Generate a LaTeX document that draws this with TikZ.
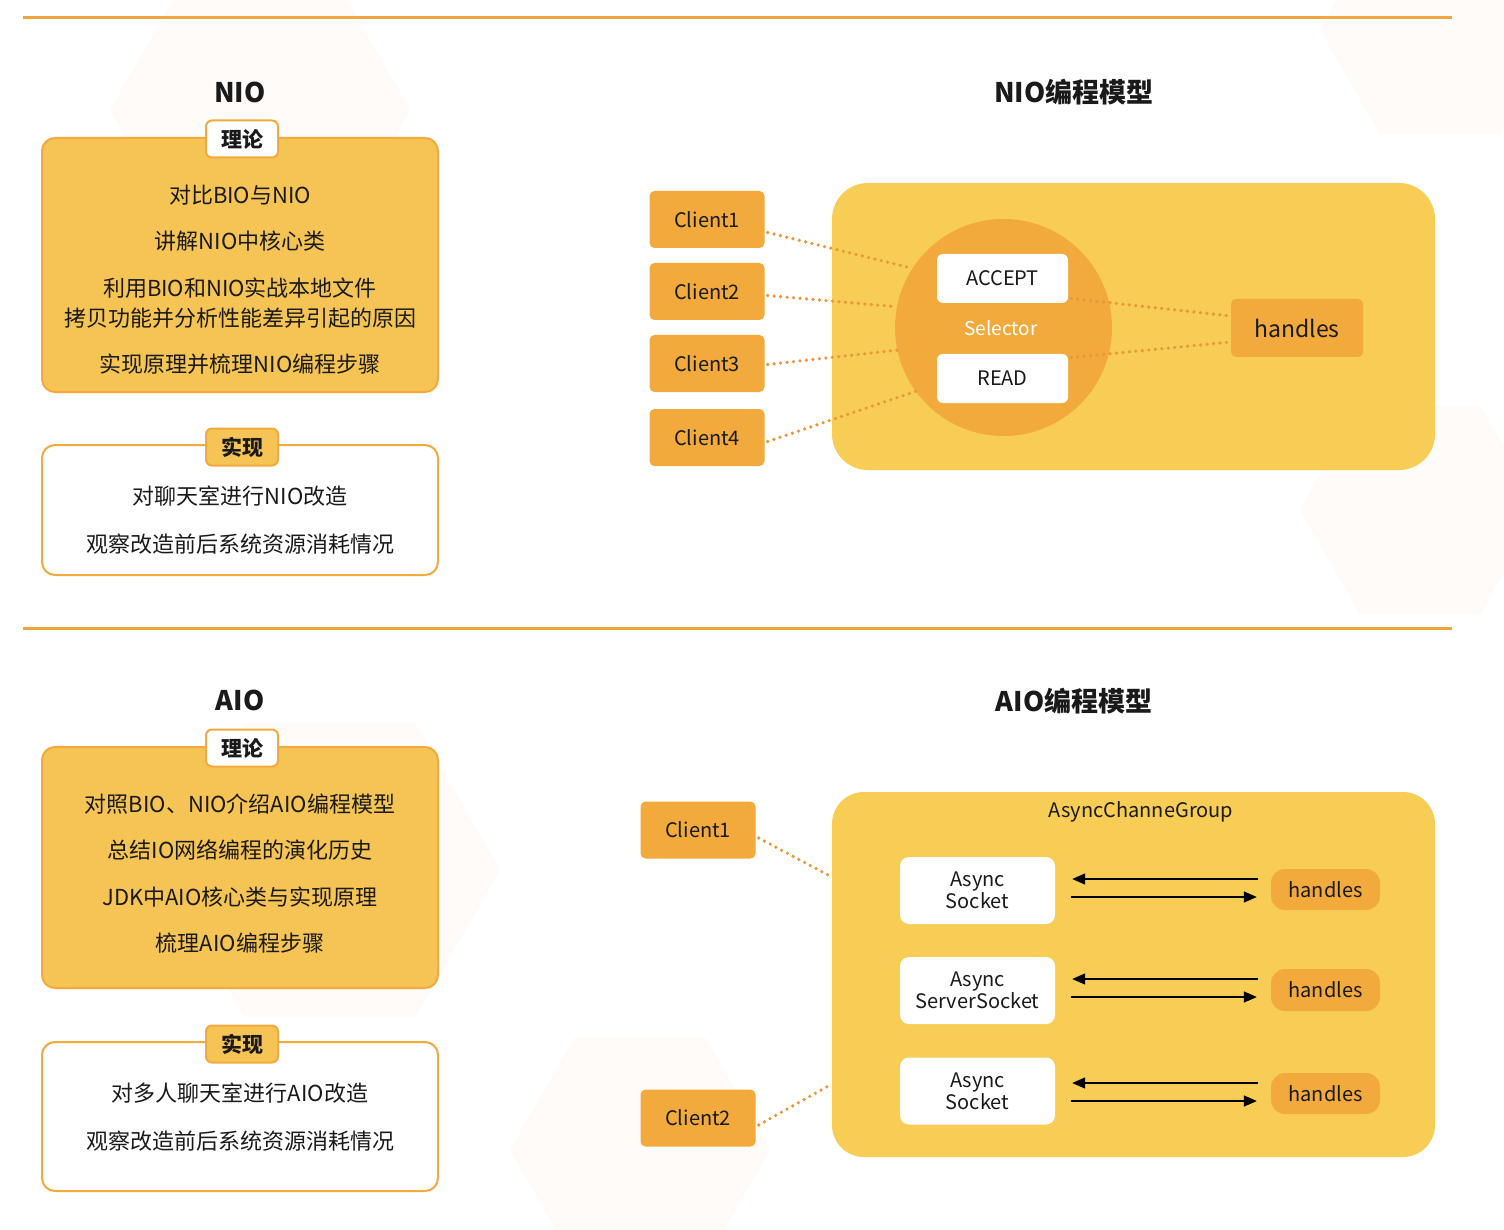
\documentclass[tikz,border=0pt]{standalone}
\usepackage{fontspec}
\setmainfont{Noto Sans CJK SC}
\usetikzlibrary{arrows.meta,calc,shapes.geometric}
\definecolor{yel}{HTML}{F7CD55}
\definecolor{thf}{HTML}{F6C454}
\definecolor{orn}{HTML}{F2AA3D}
\definecolor{rule}{HTML}{F0A53E}
\definecolor{dotc}{HTML}{E9963C}
\definecolor{ink}{HTML}{1A1A1A}
\definecolor{hexc}{HTML}{FEFBF8}
\tikzset{
  ttl/.style={font=\bfseries\fontsize{27}{32}\selectfont, text=ink},
  body/.style={font=\fontsize{22}{30}\selectfont, text=ink, align=center},
  tag/.style={draw=orn, line width=2pt, rounded corners=6pt, minimum width=72pt, minimum height=37pt, inner sep=0pt, font=\bfseries\fontsize{21}{26}\selectfont, text=ink},
  panel/.style={draw=orn, line width=2pt, rounded corners=13pt, inner sep=0pt},
  client/.style={fill=orn, rounded corners=5pt, minimum width=115pt, minimum height=57pt, inner sep=0pt, font=\fontsize{20}{24}\selectfont, text=ink},
  wbox/.style={fill=white, rounded corners=9pt, inner sep=0pt, font=\fontsize{20}{22}\selectfont, text=ink, align=center},
  hbox/.style={fill=orn, inner sep=0pt, font=\fontsize{20}{24}\selectfont, text=ink},
  dots/.style={draw=dotc, line width=3.6pt, dash pattern=on 0pt off 6.5pt, line cap=round},
  arr/.style={draw=black, line width=1.4pt, -{Triangle[length=13pt,width=11pt]}},
  hex/.style={regular polygon, regular polygon sides=6, fill=hexc, draw=none, inner sep=0pt}
}
\begin{document}
\begin{tikzpicture}[x=1pt,y=-1pt]
\useasboundingbox (0,0) rectangle (1504,1230);
\fill[white] (0,0) rectangle (1504,1230);
% faint background hexagons
\node[hex, minimum size=300pt] (hx1) at (260,110) {};
\node[hex, minimum size=240pt] (hx2) at (1420,510) {};
\node[hex, minimum size=340pt] (hx3) at (330,870) {};
\node[hex, minimum size=260pt] (hx4) at (640,1150) {};
\node[hex, minimum size=240pt] (hx5) at (1440,30) {};
% rules
\draw[rule, line width=3pt] (23,18) -- (1452,18);
\draw[rule, line width=3pt] (23,628) -- (1452,628);

% ===== NIO left =====
\node[ttl] (tnio) at (240,92) {NIO};
\node[panel, fill=thf, minimum width=396pt, minimum height=254pt] (pnt) at (240,265) {};
\node[tag, fill=white] (lnt) at (242,139) {理论};
\node[body] (n1) at (240,195) {对比BIO与NIO};
\node[body] (n2) at (240,241) {讲解NIO中核心类};
\node[body] (n3) at (240,303) {利用BIO和NIO实战本地文件\\拷贝功能并分析性能差异引起的原因};
\node[body] (n4) at (240,364) {实现原理并梳理NIO编程步骤};
\node[panel, fill=white, minimum width=396pt, minimum height=130pt] (pns) at (240,510) {};
\node[tag, fill=thf] (lns) at (242,447) {实现};
\node[body] (n5) at (240,496) {对聊天室进行NIO改造};
\node[body] (n6) at (240,544) {观察改造前后系统资源消耗情况};

% ===== NIO model =====
\node[ttl] (tnm) at (1074,92) {NIO编程模型};
\node[fill=yel, rounded corners=36pt, minimum width=603pt, minimum height=287pt, inner sep=0pt] (cn) at (1133.5,326.5) {};
\node[client] (c1) at (707,219.5) {Client1};
\node[client] (c2) at (707,291.5) {Client2};
\node[client] (c3) at (707,363.5) {Client3};
\node[client] (c4) at (707,437.5) {Client4};
\node[circle, fill=orn, minimum size=217pt, inner sep=0pt] (sel) at (1003.5,327.5) {};
\node[font=\fontsize{19}{22}\selectfont, text=white] (selt) at (1001,328) {Selector};
\node[wbox, minimum width=131pt, minimum height=49pt, rounded corners=6pt] (acc) at (1002.5,278.5) {ACCEPT};
\node[wbox, minimum width=131pt, minimum height=49pt, rounded corners=6pt] (rd) at (1002.5,378.5) {READ};
\node[hbox, rounded corners=5pt, minimum width=132pt, minimum height=58pt, font=\fontsize{23}{26}\selectfont] (hn) at (1297,328) {handles};
\draw[dots] ([yshift=-13pt,xshift=3pt]c1.east) -- (sel.147.6);
\draw[dots] ([yshift=-4pt,xshift=3pt]c2.east) -- (sel.169.6);
\draw[dots] ([yshift=-1pt,xshift=3pt]c3.east) -- (sel.192);
\draw[dots] ([yshift=-4pt,xshift=3pt]c4.east) -- (sel.216.5);
\draw[dots] ([yshift=-20pt,xshift=3pt]acc.east) -- ([yshift=12pt]hn.west);
\draw[dots] ([yshift=21pt,xshift=3pt]rd.east) -- ([yshift=-14pt]hn.west);

% ===== AIO left =====
\node[ttl] (taio) at (240,700) {AIO};
\node[panel, fill=thf, minimum width=396pt, minimum height=241pt] (pat) at (240,867.5) {};
\node[tag, fill=white] (lat) at (242,748) {理论};
\node[body] (a1t) at (240,804) {对照BIO、NIO介绍AIO编程模型};
\node[body] (a2t) at (240,850) {总结IO网络编程的演化历史};
\node[body] (a3t) at (240,897) {JDK中AIO核心类与实现原理};
\node[body] (a4t) at (240,943) {梳理AIO编程步骤};
\node[panel, fill=white, minimum width=396pt, minimum height=149pt] (pas) at (240,1116.5) {};
\node[tag, fill=thf] (las) at (242,1044) {实现};
\node[body] (a5t) at (240,1093) {对多人聊天室进行AIO改造};
\node[body] (a6t) at (240,1141) {观察改造前后系统资源消耗情况};

% ===== AIO model =====
\node[ttl] (tam) at (1074,701) {AIO编程模型};
\node[fill=yel, rounded corners=32pt, minimum width=603pt, minimum height=365pt, inner sep=0pt] (ca) at (1133.5,974.5) {};
\node[font=\fontsize{20}{24}\selectfont, text=ink] (grp) at (1141,812) {AsyncChanneGroup};
\node[client] (d1) at (698,830) {Client1};
\node[client] (d2) at (698,1118) {Client2};
\node[wbox, minimum width=155pt, minimum height=67pt] (s1) at (977.5,890.5) {Async\\Socket};
\node[wbox, minimum width=155pt, minimum height=67pt] (s2) at (977.5,990.5) {Async\\ServerSocket};
\node[wbox, minimum width=155pt, minimum height=67pt] (s3) at (977.5,1091) {Async\\Socket};
\node[hbox, rounded corners=14pt, minimum width=109pt, minimum height=41pt] (h1) at (1325.5,889.5) {handles};
\node[hbox, rounded corners=14pt, minimum width=109pt, minimum height=42pt] (h2) at (1325.5,990) {handles};
\node[hbox, rounded corners=14pt, minimum width=109pt, minimum height=41pt] (h3) at (1325.5,1093.5) {handles};
\draw[arr] ([xshift=-13pt,yshift=10.5pt]h1.west) -- ([xshift=17pt,yshift=11.5pt]s1.east);
\draw[arr] ([xshift=16pt,yshift=-6.5pt]s1.east) -- ([xshift=-14pt,yshift=-7.5pt]h1.west);
\draw[arr] ([xshift=-13pt,yshift=11pt]h2.west) -- ([xshift=17pt,yshift=11.5pt]s2.east);
\draw[arr] ([xshift=16pt,yshift=-6.5pt]s2.east) -- ([xshift=-14pt,yshift=-7pt]h2.west);
\draw[arr] ([xshift=-13pt,yshift=10.5pt]h3.west) -- ([xshift=17pt,yshift=8pt]s3.east);
\draw[arr] ([xshift=16pt,yshift=-10pt]s3.east) -- ([xshift=-14pt,yshift=-7.5pt]h3.west);
\draw[dots] ([yshift=-8pt,xshift=3pt]d1.east) -- ([yshift=97.5pt]ca.west);
\draw[dots] ([yshift=-7pt,xshift=3pt]d2.east) -- ([yshift=-109.5pt]ca.west);
\end{tikzpicture}
\end{document}
